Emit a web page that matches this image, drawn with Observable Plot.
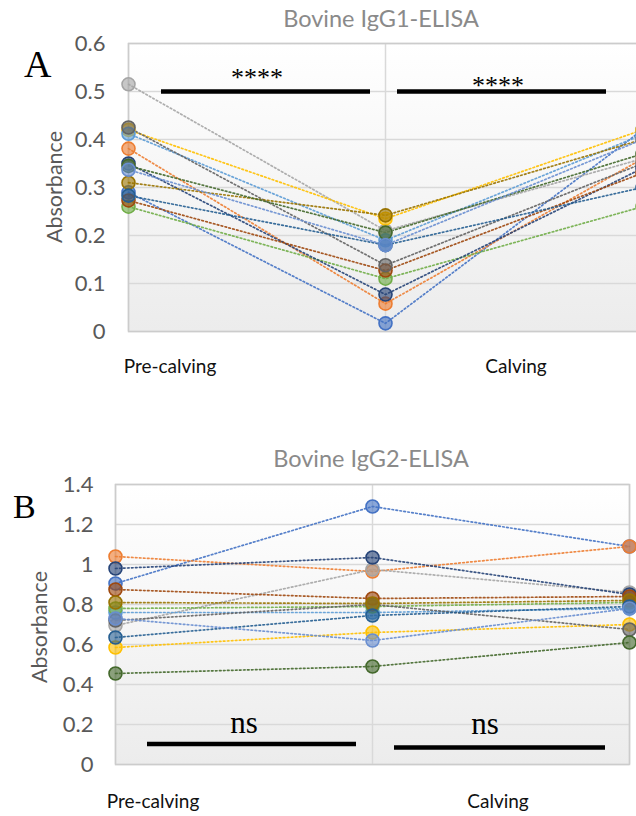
<!DOCTYPE html>
<html><head><meta charset="utf-8">
<script src="https://cdn.jsdelivr.net/npm/d3@7"></script>
<script src="https://cdn.jsdelivr.net/npm/@observablehq/plot@0.6"></script>
<style>
html,body{margin:0;padding:0;background:#fff;overflow:hidden}
#page{position:relative;width:636px;height:816px;overflow:hidden;font-family:Lato,"Open Sans",sans-serif}
.t{position:absolute;white-space:nowrap;line-height:1}
.title{font-size:23.5px;color:#8a8a8a;transform:translateX(-50%)}
.cat{font-size:19px;color:#111;transform:translateX(-50%)}
.ylab{font-size:21.5px;color:#595959;transform:translate(-50%,-50%) rotate(-90deg)}
.letter{font-family:"Liberation Serif","Times New Roman",serif;color:#000}
.chart{position:absolute;left:0}
</style></head><body>
<div id="page">
  <div id="chartA" class="chart" style="top:0"></div>
  <div id="chartB" class="chart" style="top:440px"></div>
</div>
<script>
// ---- data ----
const timepoints = ["Pre-calving", "Calving", "Post-calving"];
const animals = ["Cow 1","Cow 2","Cow 3","Cow 4","Cow 5","Cow 6","Cow 7","Cow 8","Cow 9","Cow 10","Cow 11","Cow 12","Cow 13"];
const titles = ["Bovine IgG1-ELISA", "Bovine IgG2-ELISA"];
const panelLetters = ["A", "B"];
const yLabel = "Absorbance";

const igg1Pre  = [0.290, 0.381, 0.515, 0.420, 0.412, 0.260, 0.350, 0.273, 0.425, 0.310, 0.283, 0.345, 0.337];
const igg1Calv = [0.017, 0.058, 0.210, 0.235, 0.190, 0.110, 0.077, 0.127, 0.138, 0.242, 0.180, 0.206, 0.180];
const igg1Post = [0.420, 0.360, 0.360, 0.420, 0.410, 0.260, 0.340, 0.330, 0.350, 0.400, 0.300, 0.370, 0.400];

const igg2Pre  = [0.905, 1.040, 0.695, 0.585, 0.760, 0.780, 0.980, 0.875, 0.720, 0.810, 0.635, 0.455, 0.730];
const igg2Calv = [1.290, 0.965, 0.975, 0.660, 0.760, 0.790, 1.035, 0.830, 0.800, 0.805, 0.745, 0.490, 0.620];
const igg2Post = [1.090, 1.090, 0.860, 0.700, 0.780, 0.810, 0.850, 0.840, 0.675, 0.820, 0.790, 0.610, 0.780];

const yTicksA = [0, 0.1, 0.2, 0.3, 0.4, 0.5, 0.6];
const yTicksB = [0, 0.2, 0.4, 0.6, 0.8, 1.0, 1.2, 1.4];

const compA = [{from: 0, to: 1, label: "****", level: 0.5}, {from: 1, to: 2, label: "****", level: 0.5}];
const compB = [{from: 0, to: 1, label: "ns", level: 0.103}, {from: 1, to: 2, label: "ns", level: 0.085}];

// ---- styles ----
const palette = ["#4472C4","#ED7D31","#A5A5A5","#FFC000","#5B9BD5","#70AD47","#264478","#9E480E","#636363","#997300","#255E91","#43682B","#698ED0"];

function rows(pre, calv, post) {
  const out = [];
  animals.forEach((a, i) => [pre, calv, post].forEach((arr, t) => out.push({animal: a, idx: i, t, v: arr[i]})));
  return out;
}

function gradientDefs(id) {
  return () => {
    const defs = d3.create("svg:defs");
    const g = defs.append("linearGradient").attr("id", id).attr("x1", 0).attr("y1", 0).attr("x2", 0).attr("y2", 1);
    g.append("stop").attr("offset", "0%").attr("stop-color", "#ffffff");
    g.append("stop").attr("offset", "100%").attr("stop-color", "#ececec");
    return defs.node();
  };
}

function panel(o) {
  const data = rows(...o.series);
  const xIdx = timepoints.map((_, i) => i);
  const marks = [
    gradientDefs(o.gid),
    Plot.frame({fill: `url(#${o.gid})`, stroke: "none"}),
    Plot.gridY(o.yTicks, {stroke: "#d9d9d9", strokeOpacity: 1, strokeWidth: 1.5}),
    Plot.gridX(xIdx, {stroke: "#d9d9d9", strokeOpacity: 1, strokeWidth: 1.5}),
    Plot.frame({stroke: "#cccccc", strokeWidth: 1.5}),
    Plot.axisY(o.yTicks, {tickSize: 0, tickPadding: o.pad, fontSize: 22, fill: "#595959",
      tickFormat: d => String(+d.toFixed(1)), label: null}),
    Plot.line(data, {x: "t", y: "v", z: "animal", stroke: d => palette[d.idx], strokeWidth: 1.7,
      strokeDasharray: "1.6 2.4", strokeOpacity: 0.9}),
    Plot.dot(data, {x: "t", y: "v", r: 6.5, fill: d => palette[d.idx], fillOpacity: 0.62, stroke: d => palette[d.idx], strokeWidth: 1.6}),
    ...o.comps.flatMap((c, k) => [
      Plot.ruleY([c], {y: "level", x1: "from", x2: "to", stroke: "#000", strokeWidth: 4.5,
        insetLeft: o.barInsets[k][0], insetRight: o.barInsets[k][1]}),
      Plot.text([c], {x: d => (d.from + d.to) / 2, y: "level", text: "label", dx: o.labelDx[k], dy: o.labelDy[k],
        fontFamily: "Liberation Serif, Times New Roman, serif", fontSize: o.labelSize, fill: "#000", lineAnchor: "middle"})
    ])
  ];
  return Plot.plot({
    width: 636, height: o.height,
    marginLeft: o.ml, marginRight: o.mr, marginTop: o.mt, marginBottom: o.mb,
    x: {domain: [0, timepoints.length - 1], axis: null},
    y: {domain: [0, o.yMax], axis: null},
    color: {type: "identity"},
    style: {fontFamily: "Lato, 'Open Sans', sans-serif", background: "transparent"},
    marks
  });
}

document.getElementById("chartA").append(panel({
  gid: "gA", series: [igg1Pre, igg1Calv, igg1Post], yTicks: yTicksA, yMax: 0.6,
  height: 345, ml: 128, mr: -6, mt: 43, mb: 14, pad: 23,
  comps: compA, barInsets: [[33, 15], [12, 36]], labelDx: [0, -16], labelDy: [-14, -6], labelSize: 26
}));
document.getElementById("chartB").append(panel({
  gid: "gB", series: [igg2Pre, igg2Calv, igg2Post], yTicks: yTicksB, yMax: 1.4,
  height: 340, ml: 115, mr: 7, mt: 44, mb: 16, pad: 22,
  comps: compB, barInsets: [[32, 16], [22, 24]], labelDx: [0, -16], labelDy: [-21, -23], labelSize: 31
}));

// ---- surrounding text ----
const page = document.getElementById("page");
function addText(cls, txt, left, top) {
  const d = document.createElement("div");
  d.className = "t " + cls;
  d.textContent = txt;
  d.style.left = left + "px";
  d.style.top = top + "px";
  page.append(d);
}
const layout = [
  {title: [381, 7], letter: [24, 45, 38], ylab: [55, 187], cats: [[170, 356], [516, 356]]},
  {title: [371, 447], letter: [13, 490, 34], ylab: [40, 627], cats: [[153, 791], [498, 791]]}
];
layout.forEach((L, p) => {
  addText("title", titles[p], L.title[0], L.title[1]);
  addText("letter", panelLetters[p], L.letter[0], L.letter[1]);
  page.lastChild.style.fontSize = L.letter[2] + "px";
  addText("ylab", yLabel, L.ylab[0], L.ylab[1]);
  L.cats.forEach((c, i) => addText("cat", timepoints[i], c[0], c[1]));
});
</script>
</body></html>
